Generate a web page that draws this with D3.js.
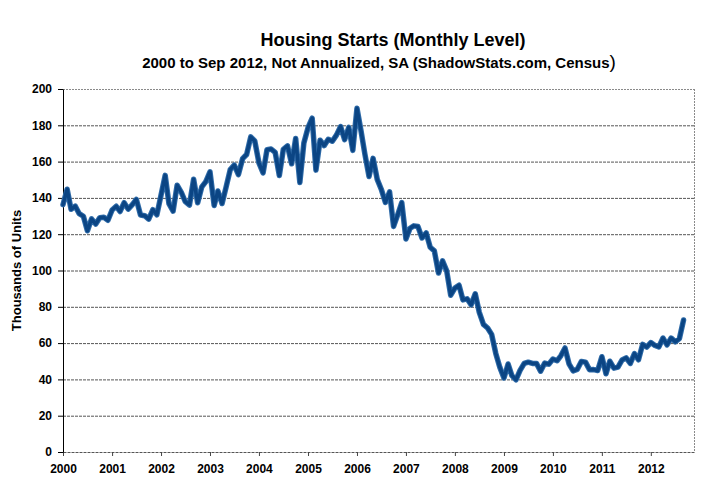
<!DOCTYPE html>
<html>
<head>
<meta charset="utf-8">
<script src="https://cdn.jsdelivr.net/npm/d3@7"></script>
<style>
  body { margin: 0; background: #fff; }
  text { font-family: "Liberation Sans", Arial, sans-serif; font-weight: bold; }
</style>
</head>
<body>
<script>
// monthly housing starts, thousands of units (not annualized), Jan 2000 .. Sep 2012
var startMonth = "2000-01";
var starts = [
  136.3, 144.8, 133.7, 135.5, 131.3, 129.9, 121.9, 128.4, 125.6, 129.1, 129.3, 127.7,
  133.3, 135.4, 132.5, 137.4, 133.8, 136.3, 139.2, 130.6, 130.2, 128.3, 133.5, 130.7,
  141.5, 152.4, 136.8, 132.7, 147.0, 143.1, 137.9, 136.1, 150.3, 137.3, 146.1, 149.0,
  154.4, 135.8, 143.8, 136.9, 145.9, 155.6, 158.1, 152.8, 161.6, 163.9, 173.6, 171.4,
  159.3, 153.8, 166.5, 166.9, 165.1, 152.3, 166.8, 168.7, 158.8, 172.7, 148.5, 170.2,
  178.7, 183.9, 155.3, 171.8, 168.8, 172.3, 171.2, 174.6, 179.3, 172.1, 178.9, 166.2,
  189.4, 176.6, 164.1, 151.8, 161.8, 150.2, 144.8, 137.5, 143.3, 124.3, 130.8, 137.4,
  117.4, 123.3, 124.6, 124.2, 117.9, 120.7, 112.8, 110.8, 98.6, 105.3, 99.8, 86.4,
  90.3, 91.9, 83.8, 84.4, 81.1, 87.2, 76.9, 70.3, 68.3, 64.8, 54.3, 46.7,
  40.8, 48.5, 42.1, 39.8, 45.0, 48.8, 49.5, 48.8, 48.8, 44.5, 49.0, 48.4,
  51.2, 50.3, 53.0, 57.3, 48.6, 44.7, 45.5, 49.9, 49.5, 45.3, 45.4, 44.9,
  52.5, 43.1, 50.0, 46.2, 46.8, 50.7, 51.9, 48.8, 54.2, 50.8, 59.3, 57.8,
  60.3, 58.7, 57.9, 62.8, 59.0, 62.8, 60.7, 62.5, 72.7
];
var yearLabels = ["2000","2001","2002","2003","2004","2005","2006","2007","2008","2009","2010","2011","2012"];
var yTicks = [0, 20, 40, 60, 80, 100, 120, 140, 160, 180, 200];

var W = 721, H = 500;
var margin = {top: 89, right: 27, bottom: 48, left: 63},
    width = W - margin.left - margin.right,
    height = H - margin.top - margin.bottom;

var parseMonth = d3.timeParse("%Y-%m");
var t0 = parseMonth(startMonth);
var data = starts.map(function(v, i){
  return {date: d3.timeMonth.offset(t0, i), value: v};
});

var x = d3.scaleTime()
  .domain([t0, new Date(2012, 10, 18)])
  .range([0, width]);
var y = d3.scaleLinear().domain([0, 200]).range([height, 0]);

var svg = d3.select("body").append("svg")
  .attr("width", W).attr("height", H);

// titles
svg.append("text")
  .attr("x", 393).attr("y", 46)
  .attr("text-anchor", "middle")
  .style("font-size", "18px")
  .text("Housing Starts (Monthly Level)");

var sub = svg.append("text")
  .attr("x", 379).attr("y", 68)
  .attr("text-anchor", "middle")
  .style("font-size", "15px");
sub.append("tspan").text("2000 to Sep 2012, Not Annualized, SA (ShadowStats.com, Census");
sub.append("tspan").style("font-size", "19px").style("font-weight", "normal").text(")");

var g = svg.append("g")
  .attr("transform", "translate(" + margin.left + "," + margin.top + ")");

// gridlines
g.selectAll(".grid")
  .data(yTicks.filter(function(d){ return d > 0 && d < 200; }))
  .enter().append("line")
  .attr("x1", 0).attr("x2", width)
  .attr("y1", function(d){ return y(d) + 0.5; })
  .attr("y2", function(d){ return y(d) + 0.5; })
  .attr("stroke", "#555")
  .attr("stroke-dasharray", "3,1");

// frame: top, right
g.append("line").attr("x1", 0).attr("x2", width).attr("y1", 0.5).attr("y2", 0.5)
  .attr("stroke", "#8a8a8a").attr("stroke-dasharray", "2,1");
g.append("line").attr("x1", width + 0.5).attr("x2", width + 0.5).attr("y1", 0).attr("y2", height)
  .attr("stroke", "#8a8a8a").attr("stroke-dasharray", "2,1");

// x axis
var xAxis = d3.axisBottom(x)
  .tickValues(yearLabels.map(function(s){ return d3.timeParse("%Y")(s); }))
  .tickFormat(d3.timeFormat("%Y"))
  .tickSize(4).tickSizeOuter(0).tickPadding(8);
var gx = g.append("g")
  .attr("transform", "translate(0," + height + ")")
  .call(xAxis);
gx.select(".domain").attr("stroke", "#555").attr("stroke-dasharray", "3,1");
gx.selectAll(".tick line").attr("stroke", "#444");
gx.selectAll("text").style("font-size", "12px").attr("fill", "#000");

// y axis
var yAxis = d3.axisLeft(y).tickValues(yTicks).tickSize(5).tickSizeOuter(0).tickPadding(6);
var gy = g.append("g").call(yAxis);
gy.select(".domain").attr("stroke", "#000");
gy.selectAll(".tick line").attr("stroke", "#000");
gy.selectAll("text").style("font-size", "12px").attr("fill", "#000");

svg.append("text")
  .attr("transform", "translate(21," + (margin.top + height / 2) + ") rotate(-90)")
  .attr("text-anchor", "middle")
  .style("font-size", "13px")
  .text("Thousands of Units");

// series
var line = d3.line()
  .x(function(d){ return x(d.date); })
  .y(function(d){ return y(d.value); });

g.append("path").datum(data)
  .attr("d", line)
  .attr("fill", "none")
  .attr("stroke", "#2f6ba8")
  .attr("stroke-width", 5.5)
  .attr("stroke-linejoin", "round")
  .attr("stroke-linecap", "round");
g.append("path").datum(data)
  .attr("d", line)
  .attr("fill", "none")
  .attr("stroke", "#0b4584")
  .attr("stroke-width", 3.5)
  .attr("stroke-linejoin", "round")
  .attr("stroke-linecap", "round");
</script>
</body>
</html>
